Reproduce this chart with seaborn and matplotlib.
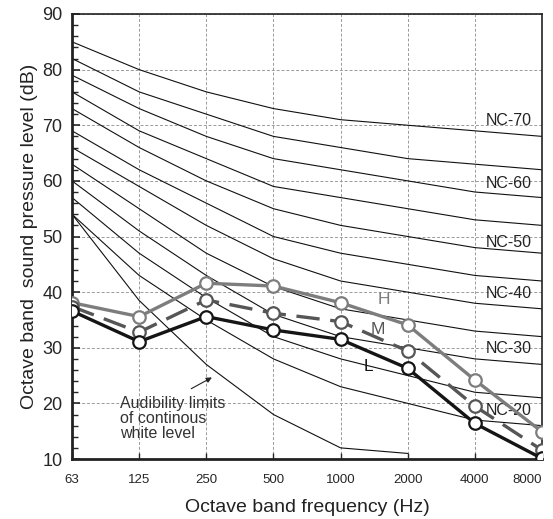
import matplotlib
matplotlib.use("Agg")
import matplotlib.pyplot as plt
from matplotlib.ticker import MultipleLocator
import pandas as pd
import seaborn as sns

# Octave band centre frequencies (Hz)
bands = ["63", "125", "250", "500", "1000", "2000", "4000", "8000"]

# Noise criterion curves, levels in dB per octave band
nc_70 = [85, 80, 76, 73, 71, 70, 69, 68]
nc_65 = [82, 76, 72, 68, 66, 64, 63, 62]
nc_60 = [79, 73, 68, 64, 62, 60, 58, 57]
nc_55 = [76, 69, 64, 59, 57, 55, 53, 52]
nc_50 = [73, 66, 60, 55, 52, 50, 48, 47]
nc_45 = [69, 62, 56, 50, 47, 45, 43, 42]
nc_40 = [66, 59, 52, 46, 42, 40, 38, 37]
nc_35 = [63, 55, 47, 41, 37, 35, 33, 32]
nc_30 = [60, 51, 43, 36, 32, 30, 28, 27]
nc_25 = [57, 47, 39, 32, 28, 25, 22, 21]
nc_20 = [54, 43, 35, 28, 23, 20, 17, 16]

# Audibility limit of continuous white noise, 63 Hz .. 2000 Hz
audibility = [54, 38.5, 27, 18, 12, 11]

# Measured spectra: H, M and L conditions
level_h = [38.1, 35.6, 41.6, 41.1, 38.1, 34.1, 24.2, 14.9]
level_m = [37.4, 32.8, 38.6, 36.2, 34.7, 29.4, 19.5, 11.6]
level_l = [36.6, 31.1, 35.6, 33.2, 31.5, 26.3, 16.4, 10.1]

nc_names = ["NC-70", "NC-60", "NC-50", "NC-40", "NC-30", "NC-20"]
nc_name_levels = [70.9, 59.6, 48.9, 39.7, 29.9, 18.7]

sns.set_style("white")
plt.rcParams["font.family"] = ["Liberation Sans", "DejaVu Sans"]

fig = plt.figure(figsize=(5.53, 5.19), dpi=100)
ax = fig.add_axes([72 / 553, 1 - 459 / 519, 470 / 553, 445 / 519])

pos = list(range(len(bands)))

nc_curves = [nc_70, nc_65, nc_60, nc_55, nc_50, nc_45,
             nc_40, nc_35, nc_30, nc_25, nc_20]
nc_df = pd.concat(
    [pd.DataFrame({"band": pos, "level": c, "curve": i})
     for i, c in enumerate(nc_curves)]
    + [pd.DataFrame({"band": pos[:len(audibility)], "level": audibility,
                     "curve": len(nc_curves)})],
    ignore_index=True)
sns.lineplot(data=nc_df, x="band", y="level", units="curve", estimator=None,
             color="#111111", lw=0.8, ax=ax, zorder=2)

series = [
    (level_h, "#7d7d7d", "-"),
    (level_m, "#565656", (0, (7, 3.2))),
    (level_l, "#151515", "-"),
]
for vals, col, ls in series:
    sns.lineplot(x=pos, y=vals, color=col, lw=2.4, linestyle=ls, marker="o",
                 markersize=9, markerfacecolor="white", markeredgecolor=col,
                 markeredgewidth=1.6, ax=ax, zorder=4)

for name, lev in zip(nc_names, nc_name_levels):
    ax.text(6.5, lev, name, ha="center", va="center", fontsize=11.5,
            color="#222222", zorder=3)

ax.text(4.64, 38.7, "H", fontsize=12.5, color="#7d7d7d", ha="center", va="center")
ax.text(4.56, 33.2, "M", fontsize=12.5, color="#565656", ha="center", va="center")
ax.text(4.41, 26.7, "L", fontsize=12.5, color="#151515", ha="center", va="center")

ax.text(0.715, 21.4, "Audibility limits\nof continous\nwhite level",
        fontsize=11.5, color="#333333", ha="left", va="top", linespacing=1.0)
ax.annotate("", xy=(2.12, 24.9), xytext=(1.74, 22.4),
            arrowprops=dict(arrowstyle="-|>", color="#222222", lw=0.8,
                            mutation_scale=8))

ax.set_xlim(0, 7)
ax.set_ylim(10, 90)
ax.set_xticks(pos)
ax.set_xticklabels(bands)
ax.set_yticks(range(10, 91, 10))
ax.yaxis.set_minor_locator(MultipleLocator(2))

ax.grid(True, which="major", color="#9a9a9a", lw=0.7, ls=(0, (3, 2)))
ax.set_axisbelow(True)

ax.tick_params(axis="y", which="major", direction="in", length=6, width=1.2,
               labelsize=13, pad=7, left=True, right=False)
ax.tick_params(axis="y", which="minor", direction="in", length=4, width=1.0,
               left=True, right=False)
ax.tick_params(axis="x", which="major", direction="in", length=4, width=1.0,
               labelsize=9.5, pad=11, bottom=True, top=False)
ax.get_xticklabels()[-1].set_horizontalalignment("right")

for side in ["left", "bottom"]:
    ax.spines[side].set_linewidth(2.0)
for side in ["top", "right"]:
    ax.spines[side].set_linewidth(1.2)
for sp in ax.spines.values():
    sp.set_color("#222222")

ax.set_xlabel("Octave band frequency (Hz)", fontsize=14, labelpad=9,
              color="#222222")
ax.set_ylabel("Octave band  sound pressure level (dB)", fontsize=14,
              labelpad=3, color="#222222")

fig.savefig("out.png", dpi=100)
